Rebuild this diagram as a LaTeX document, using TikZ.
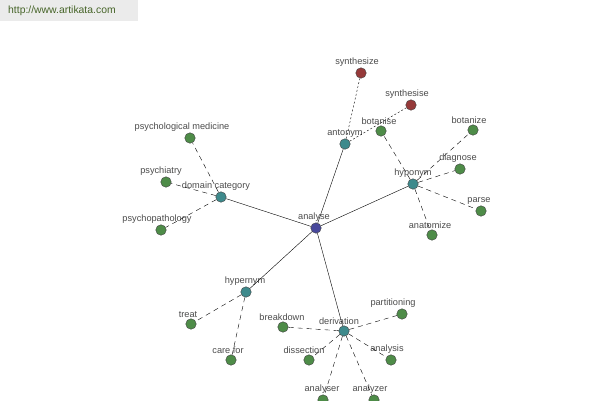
\documentclass[tikz,border=0pt]{standalone}
\usepackage{fontspec}
\setmainfont{Liberation Sans}
\definecolor{hubc}{RGB}{62,138,140}
\definecolor{rootc}{RGB}{72,72,156}
\definecolor{leafc}{RGB}{78,140,72}
\definecolor{oppc}{RGB}{150,58,58}
\definecolor{sitec}{RGB}{70,100,40}
\begin{document}
\begin{tikzpicture}[x=1pt, y=-1pt]
	\tikzstyle{word} = [ draw=black!75, circle, thin, minimum size=10.5pt, inner sep=0pt ];
	\tikzstyle{every label} = [ font={\fontsize{9.2}{10}\selectfont}, text=black!70, inner sep=0.3pt, label distance=0.8pt ];
	\tikzstyle{tie} = [ thin ];
	\tikzstyle{sense} = [ thin, dash pattern=on 5pt off 4pt ];
	\tikzstyle{opposite} = [ thin, dash pattern=on 2pt off 2pt ];

	\useasboundingbox[fill=white] (0,0) rectangle (600,400);
	\fill[black!8] (0,0) rectangle (138,21);
	\node[anchor=west, text=sitec, font={\fontsize{10.4}{12}\selectfont}, inner sep=0pt] (site) at (8,11) {http://www.artikata.com};

	% centre and relation hubs
	\node[word, fill=rootc, label={[xshift=-2pt]above:analyse}] (analyse) at (316,228) {};
	\node[word, fill=hubc, label={above:antonym}] (antonym) at (345,144) {};
	\node[word, fill=hubc, label={above:hyponym}] (hyponym) at (413,184) {};
	\node[word, fill=hubc, label={[xshift=-5pt]above:domain category}] (domain) at (221,197) {};
	\node[word, fill=hubc, label={[xshift=-1pt]above:hypernym}] (hypernym) at (246,292) {};
	\node[word, fill=hubc, label={[xshift=-5pt]above:derivation}] (derivation) at (344,331) {};

	\foreach \h in {antonym, hyponym, domain, hypernym, derivation}
		\draw[tie] (analyse) -- (\h);

	% antonyms
	\foreach \n/\x/\y/\t in {synthesize/361/73/synthesize, synthesise/411/105/synthesise} {
		\node[word, fill=oppc, label={[xshift=-4pt]above:\t}] (\n) at (\x,\y) {};
		\draw[opposite] (antonym) -- (\n);
	}

	% the other senses
	\foreach \n/\x/\y/\dx/\t/\h in {
			botanise/381/131/-2/botanise/hyponym,
			botanize/473/130/-4/botanize/hyponym,
			diagnose/460/169/-2/diagnose/hyponym,
			parse/481/211/-2/parse/hyponym,
			anatomize/432/235/-2/anatomize/hyponym,
			psymed/190/138/-8/psychological medicine/domain,
			psychiatry/166/182/-5/psychiatry/domain,
			psypath/161/230/-4/psychopathology/domain,
			treat/191/324/-3/treat/hypernym,
			carefor/231/360/-3/care for/hypernym,
			breakdown/283/327/-1/breakdown/derivation,
			partitioning/402/314/-9/partitioning/derivation,
			dissection/309/360/-5/dissection/derivation,
			analysis/391/360/-4/analysis/derivation,
			analyser/323/400/-1/analyser/derivation,
			analyzer/374/400/-4/analyzer/derivation} {
		\node[word, fill=leafc, label={[xshift=\dx pt]above:\t}] (\n) at (\x,\y) {};
		\draw[sense] (\h) -- (\n);
	}
\end{tikzpicture}
\end{document}
